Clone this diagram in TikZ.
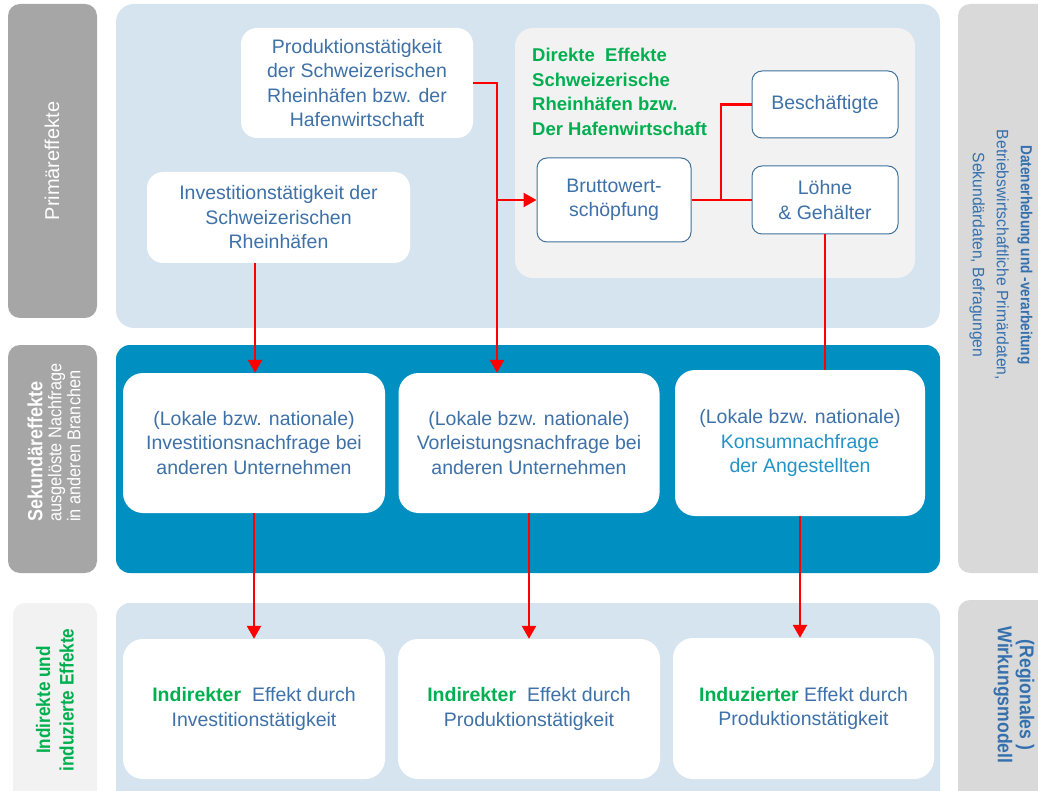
\documentclass[tikz,border=0pt]{standalone}
\usepackage{fontspec}
\setmainfont{Liberation Sans}
\newfontfamily\nfa[FakeStretch=0.88]{Liberation Sans}
\newfontfamily\nfb[FakeStretch=0.85]{Liberation Sans}
\newfontfamily\nfc[FakeStretch=0.95]{Liberation Sans}
\usetikzlibrary{arrows.meta}
\definecolor{tblue}{HTML}{3E71A8}
\definecolor{kblue}{HTML}{2493C6}
\definecolor{lblue}{HTML}{3570AE}
\definecolor{ggreen}{HTML}{00B050}
\definecolor{panelblue}{HTML}{D6E4F0}
\definecolor{midblue}{HTML}{008FC1}
\definecolor{dgray}{HTML}{A6A6A6}
\definecolor{rgray}{HTML}{D9D9D9}
\definecolor{lgray}{HTML}{F2F2F2}
\definecolor{bord}{HTML}{41719C}
\tikzset{
  mainf/.style={font=\fontsize{19.5}{24.5}\selectfont},
  wbox/.style={mainf, fill=white, draw=none, rounded corners=16pt, align=center, text=tblue, inner sep=0pt},
  bbox/.style={mainf, fill=white, draw=bord, line width=1pt, rounded corners=10pt, align=center, text=tblue, inner sep=0pt},
  arr/.style={draw=red, line width=2.4pt, -{Triangle[length=13pt,width=14pt]}},
  ln/.style={draw=red, line width=2.4pt},
}
\begin{document}
\begin{tikzpicture}[x=1pt,y=-1pt]
\clip (0,0) rectangle (1038,791);
\fill[white] (0,0) rectangle (1038,791);
% side bars
\fill[dgray, rounded corners=12pt] (8,4) rectangle (97,318);
\fill[dgray, rounded corners=12pt] (8,345) rectangle (97,573);
\fill[lgray, rounded corners=12pt] (13,603) rectangle (97,810);
\fill[rgray, rounded corners=12pt] (958,4) rectangle (1060,573);
\fill[rgray, rounded corners=12pt] (958,600) rectangle (1060,810);
% panels
\fill[panelblue, rounded corners=18pt] (116,4) rectangle (940,328);
\fill[lgray, rounded corners=18pt] (515,28) rectangle (915,278);
\fill[midblue, rounded corners=14pt] (116,345) rectangle (940,573);
\fill[panelblue, rounded corners=14pt] (116,603) rectangle (940,810);
% side labels
\node[rotate=90, text=white, font=\fontsize{20}{24}\selectfont, inner sep=0pt] (lprim) at (52,161) {Primäreffekte};
\node[rotate=90, text=white, anchor=west, align=left, inner sep=0pt, font=\nfa\fontsize{18.5}{19}\selectfont] (lsek) at (54,522) {{\bfseries\fontsize{20.5}{19}\selectfont Sekundäreffekte}\\ausgelöste Nachfrage\\in anderen Branchen};
\node[rotate=90, text=ggreen, align=center, inner sep=0pt, font=\nfa\bfseries\fontsize{19.5}{23.5}\selectfont] (lind) at (55,700) {Indirekte und\\induzierte Effekte};
\node[rotate=-90, text=lblue, align=center, inner sep=0pt, font=\nfc\fontsize{16.5}{24}\selectfont] (rdat) at (1001,255) {{\nfb\bfseries\fontsize{16}{24}\selectfont Datenerhebung und -verarbeitung}\\Betriebswirtschaftliche Primärdaten,\\Sekundärdaten, Befragungen};
\node[rotate=-90, text=lblue, align=center, inner sep=0pt, font=\nfa\bfseries\fontsize{20}{22}\selectfont] (rwirk) at (1014,695) {(Regionales )\\Wirkungsmodell};
% top nodes
\node[wbox, minimum width=232pt, minimum height=110pt] (prod) at (357,83) {Produktionstätigkeit\\der Schweizerischen\\Rheinhäfen bzw. der\\Hafenwirtschaft};
\node[wbox, minimum width=263pt, minimum height=91pt] (inv) at (278.5,217.5) {Investitionstätigkeit der\\Schweizerischen\\Rheinhäfen};
\node[text=ggreen, font=\bfseries\fontsize{18.5}{24.5}\selectfont, align=left, anchor=west, inner sep=0pt] (dir) at (532,92) {Direkte\ \ Effekte\\Schweizerische\\Rheinhäfen bzw.\\Der Hafenwirtschaft};
\node[bbox, minimum width=154pt, minimum height=84pt] (brut) at (614,200) {Bruttowert-\\schöpfung};
\node[bbox, minimum width=146pt, minimum height=67pt] (besch) at (825,104.5) {Beschäftigte};
\node[bbox, minimum width=146pt, minimum height=68pt] (lohn) at (825,200) {Löhne\\\& Gehälter};
% middle nodes
\node[wbox, rounded corners=20pt, minimum width=262pt, minimum height=140pt] (m1) at (254,443) {(Lokale bzw. nationale)\\Investitionsnachfrage bei\\anderen Unternehmen};
\node[wbox, rounded corners=20pt, minimum width=261pt, minimum height=140pt] (m2) at (529,443) {(Lokale bzw. nationale)\\Vorleistungsnachfrage bei\\anderen Unternehmen};
\node[wbox, rounded corners=20pt, minimum width=250pt, minimum height=146pt] (m3) at (800,443) {(Lokale bzw. nationale)\\\textcolor{kblue}{Konsumnachfrage}\\\textcolor{kblue}{der Angestellten}};
% bottom nodes
\node[wbox, rounded corners=20pt, minimum width=262pt, minimum height=140pt] (b1) at (254,709) {\textcolor{ggreen}{\bfseries Indirekter}\ \ Effekt durch\\Investitionstätigkeit};
\node[wbox, rounded corners=20pt, minimum width=262pt, minimum height=140pt] (b2) at (529,709) {\textcolor{ggreen}{\bfseries Indirekter}\ \ Effekt durch\\Produktionstätigkeit};
\node[wbox, rounded corners=20pt, minimum width=261pt, minimum height=141pt] (b3) at (803.5,708.5) {\textcolor{ggreen}{\bfseries Induzierter} Effekt durch\\Produktionstätigkeit};
% helper x positions
\coordinate (xa) at (255,0);
\coordinate (xb) at (497,0);
\coordinate (xd) at (721,0);
% connectors
\draw[arr] (inv.south -| xa) -- (m1.north -| xa);
\draw[arr] (prod.east) -- (prod.east -| xb) -- (m2.north -| xb);
\draw[arr] (brut.west -| xb) -- (brut.west);
\draw[ln] (brut.east) -- (brut.east -| xd) |- (besch.west);
\draw[ln] (brut.east -| xd) -- (lohn.west);
\draw[ln] (lohn.south) -- (lohn.south |- m3.north);
\draw[arr] (m1.south) -- (b1.north);
\draw[arr] (m2.south) -- (b2.north);
\draw[arr] (m3.south) -- (m3.south |- b3.north);
\end{tikzpicture}
\end{document}
